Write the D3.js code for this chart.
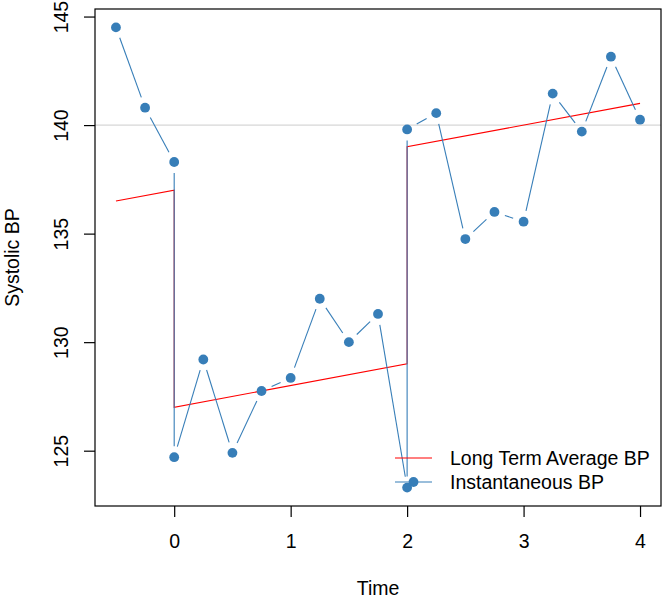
<!DOCTYPE html>
<html>
<head>
<meta charset="utf-8">
<script src="https://cdn.jsdelivr.net/npm/d3@7"></script>
<style>
  body { margin: 0; background: #fff; }
  svg { display: block; font-family: "Liberation Sans", Arial, sans-serif; }
</style>
</head>
<body>
<div class="js-vis"></div>
<script>
"use strict";

// data
var timeInst = [-0.5, -0.25, 0, 0, 0.25, 0.5, 0.75, 1, 1.25, 1.5, 1.75, 2, 2, 2.25, 2.5, 2.75, 3, 3.25, 3.5, 3.75, 4];
var bpInst = [144.5, 140.8, 138.3, 124.7, 129.2, 124.9, 127.75, 128.35, 132.0, 130.0, 131.3, 123.3, 139.8, 140.55, 134.75, 136.0, 135.55, 141.45, 139.7, 143.15, 140.25];
var timeAvg = [-0.5, 0, 0, 2, 2, 4];
var bpAvg = [136.5, 137, 127, 129, 139, 141];
var xTicks = [0, 1, 2, 3, 4];
var yTicks = [125, 130, 135, 140, 145];
var refLine = 140;
var legendLabels = ["Long Term Average BP", "Instantaneous BP"];

var width = 663, height = 598;
var box = { left: 95, right: 661, top: 9, bottom: 506 };
var blue = "#377eb8", red = "#ff0000";
var fs = 19.5;

var inst = timeInst.map(function (t, i) { return [t, bpInst[i]]; });
var avg = timeAvg.map(function (t, i) { return [t, bpAvg[i]]; });

// R-style 4% expansion
function expand(ext) {
  var r = ext[1] - ext[0];
  return [ext[0] - 0.04 * r, ext[1] + 0.04 * r];
}

var x = d3.scaleLinear().domain(expand(d3.extent(timeInst))).range([box.left, box.right]);
var y = d3.scaleLinear().domain(expand(d3.extent(bpInst))).range([box.bottom, box.top]);

var svg = d3.select(".js-vis").append("svg").attr("width", width).attr("height", height);

svg.append("defs").append("clipPath").attr("id", "clip")
  .append("rect").attr("x", box.left).attr("y", box.top)
  .attr("width", box.right - box.left).attr("height", box.bottom - box.top);

var plot = svg.append("g").attr("clip-path", "url(#clip)");

// reference line
plot.append("line")
  .attr("x1", box.left).attr("x2", box.right)
  .attr("y1", y(refLine)).attr("y2", y(refLine))
  .attr("stroke", "#cccccc").attr("stroke-width", 1);

// long term average
plot.append("path").datum(avg)
  .attr("fill", "none").attr("stroke", red).attr("stroke-width", 1.1)
  .attr("d", d3.line().x(function (d) { return x(d[0]); }).y(function (d) { return y(d[1]); }));

// instantaneous: type "b" style, segments with gaps near points
var gap = 11;
var segs = [];
for (var i = 0; i < inst.length - 1; i++) {
  var x0 = x(inst[i][0]), y0 = y(inst[i][1]), x1 = x(inst[i + 1][0]), y1 = y(inst[i + 1][1]);
  var dx = x1 - x0, dy = y1 - y0, len = Math.sqrt(dx * dx + dy * dy);
  if (len > 2 * gap) {
    var ux = dx / len, uy = dy / len;
    segs.push([x0 + ux * gap, y0 + uy * gap, x1 - ux * gap, y1 - uy * gap]);
  }
}
plot.selectAll(".seg").data(segs).enter().append("line")
  .attr("class", "seg")
  .attr("x1", function (d) { return d[0]; }).attr("y1", function (d) { return d[1]; })
  .attr("x2", function (d) { return d[2]; }).attr("y2", function (d) { return d[3]; })
  .attr("stroke", blue).attr("stroke-width", 1.1);

plot.selectAll(".pt").data(inst).enter().append("circle")
  .attr("class", "pt").attr("r", 4.9)
  .attr("cx", function (d) { return x(d[0]); })
  .attr("cy", function (d) { return y(d[1]); })
  .attr("fill", blue);

// box
svg.append("rect")
  .attr("x", box.left).attr("y", box.top)
  .attr("width", box.right - box.left).attr("height", box.bottom - box.top)
  .attr("fill", "none").attr("stroke", "#000").attr("stroke-width", 1.2);

// axes
var xax = svg.append("g").attr("transform", "translate(0," + box.bottom + ")")
  .call(d3.axisBottom(x).tickValues(xTicks).tickFormat(d3.format("d")).tickSize(11).tickSizeOuter(0));
xax.select(".domain").remove();
xax.selectAll(".tick line").attr("stroke", "#000").attr("stroke-width", 1.2);
xax.selectAll(".tick text").attr("y", 42).attr("dy", 0)
  .attr("font-size", fs).attr("font-family", "Liberation Sans, Arial, sans-serif").attr("fill", "#000");

var yax = svg.append("g").attr("transform", "translate(" + box.left + ",0)")
  .call(d3.axisLeft(y).tickValues(yTicks).tickFormat(d3.format("d")).tickSize(11).tickSizeOuter(0));
yax.select(".domain").remove();
yax.selectAll(".tick line").attr("stroke", "#000").attr("stroke-width", 1.2);
yax.selectAll(".tick text")
  .attr("x", null).attr("dy", 0)
  .attr("transform", "translate(-27,0) rotate(-90)")
  .attr("text-anchor", "middle")
  .attr("font-size", fs).attr("font-family", "Liberation Sans, Arial, sans-serif").attr("fill", "#000");

// axis titles
svg.append("text")
  .attr("x", (box.left + box.right) / 2).attr("y", 595)
  .attr("text-anchor", "middle").attr("font-size", fs).text("Time");
svg.append("text")
  .attr("transform", "translate(18.5," + (box.top + box.bottom) / 2 + ") rotate(-90)")
  .attr("text-anchor", "middle").attr("font-size", fs).text("Systolic BP");

// legend
var leg = svg.append("g").attr("class", "legend");
var legY = [458, 482];
leg.append("line").attr("x1", 395).attr("x2", 432).attr("y1", legY[0]).attr("y2", legY[0])
  .attr("stroke", red).attr("stroke-width", 1.1);
leg.append("line").attr("x1", 395).attr("x2", 432).attr("y1", legY[1]).attr("y2", legY[1])
  .attr("stroke", blue).attr("stroke-width", 1.1);
leg.append("circle").attr("cx", 413.5).attr("cy", legY[1]).attr("r", 4.9).attr("fill", blue);
leg.selectAll("text").data(legendLabels).enter().append("text")
  .attr("x", 450).attr("y", function (d, i) { return legY[i] + 7; })
  .attr("font-size", fs).text(function (d) { return d; });
</script>
</body>
</html>
